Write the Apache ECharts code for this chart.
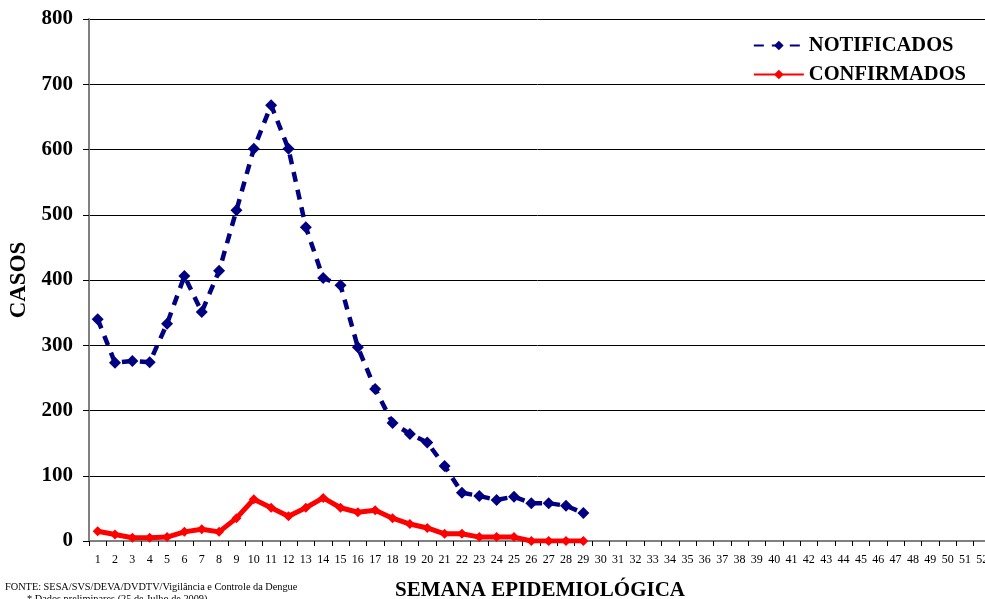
<!DOCTYPE html>
<html><head><meta charset="utf-8">
<script src="https://cdn.jsdelivr.net/npm/echarts@6/dist/echarts.min.js"></script>
<style>html,body{margin:0;padding:0;background:#fff}#c{width:985px;height:599px}</style>
</head><body><div id="c"></div>
<script>
const weeks = Array.from({length: 52}, (_, i) => String(i + 1));
const notificados = [340, 273, 276, 274, 333, 406, 351, 414, 507, 601, 668, 601, 481, 403, 392, 297, 233, 181, 164, 151, 115, 74, 69, 63, 68, 58, 58, 54, 43];
const confirmados = [15, 10, 5, 5, 6, 14, 18, 14, 35, 64, 51, 38, 51, 66, 51, 44, 47, 35, 26, 20, 11, 11, 6, 6, 6, 0, 0, 0, 0];
const yTicks = [0, 100, 200, 300, 400, 500, 600, 700, 800];
const fonte = 'FONTE: SESA/SVS/DEVA/DVDTV/Vigilância e Controle da Dengue';
const nota = '* Dados preliminares (25 de Julho de 2009)';

const serif = '"Liberation Serif", "Times New Roman", serif';
const chart = echarts.init(document.getElementById('c'));
chart.setOption({
  animation: false,
  textStyle: {fontFamily: serif},
  grid: {left: 89, top: 19, width: 902, height: 522, containLabel: false, outerBoundsMode: 'none'},
  legend: {
    orient: 'vertical', right: 14, top: 30, itemGap: 8, itemWidth: 50, itemHeight: 12,
    textStyle: {fontFamily: serif, fontWeight: 'bold', fontSize: 20.5, color: '#000'},
    data: ['NOTIFICADOS', 'CONFIRMADOS']
  },
  xAxis: {
    type: 'category', data: weeks, boundaryGap: true,
    name: 'SEMANA EPIDEMIOLÓGICA', nameLocation: 'middle', nameGap: 39,
    nameTextStyle: {fontFamily: serif, fontWeight: 'bold', fontSize: 21, color: '#000'},
    axisLine: {lineStyle: {color: '#808080', width: 2}},
    axisTick: {show: true, length: 5, lineStyle: {color: '#000'}, interval: 0},
    axisLabel: {interval: 0, fontSize: 12, color: '#000', margin: 13, fontFamily: serif}
  },
  yAxis: {
    type: 'value', min: 0, max: 800, interval: 100,
    name: 'CASOS', nameLocation: 'middle', nameGap: 58, nameRotate: 90,
    nameTextStyle: {fontFamily: serif, fontWeight: 'bold', fontSize: 23, color: '#000'},
    axisLine: {show: true, lineStyle: {color: '#808080', width: 2}},
    axisTick: {show: true, length: 6, inside: false, lineStyle: {color: '#000'}},
    axisLabel: {fontSize: 21, fontWeight: 'bold', color: '#000', margin: 16, fontFamily: serif,
      formatter: v => yTicks.includes(v) ? String(v) : ''},
    splitLine: {show: true, lineStyle: {color: '#000', width: 1}}
  },
  series: [
    {
      name: 'NOTIFICADOS', type: 'line', data: notificados,
      symbol: 'diamond', symbolSize: 12, showSymbol: true,
      lineStyle: {color: '#000080', width: 4.5, type: [10, 8]},
      itemStyle: {color: '#000080'}
    },
    {
      name: 'CONFIRMADOS', type: 'line', data: confirmados,
      symbol: 'diamond', symbolSize: 10,
      lineStyle: {color: '#ff0000', width: 5},
      itemStyle: {color: '#ff0000'}
    }
  ],
  graphic: [
    {type: 'text', left: 5, top: 582, style: {text: fonte, font: '10.3px ' + serif, fill: '#000'}},
    {type: 'text', left: 27, top: 594, style: {text: nota, font: '10.3px ' + serif, fill: '#000'}}
  ]
});
</script></body></html>
